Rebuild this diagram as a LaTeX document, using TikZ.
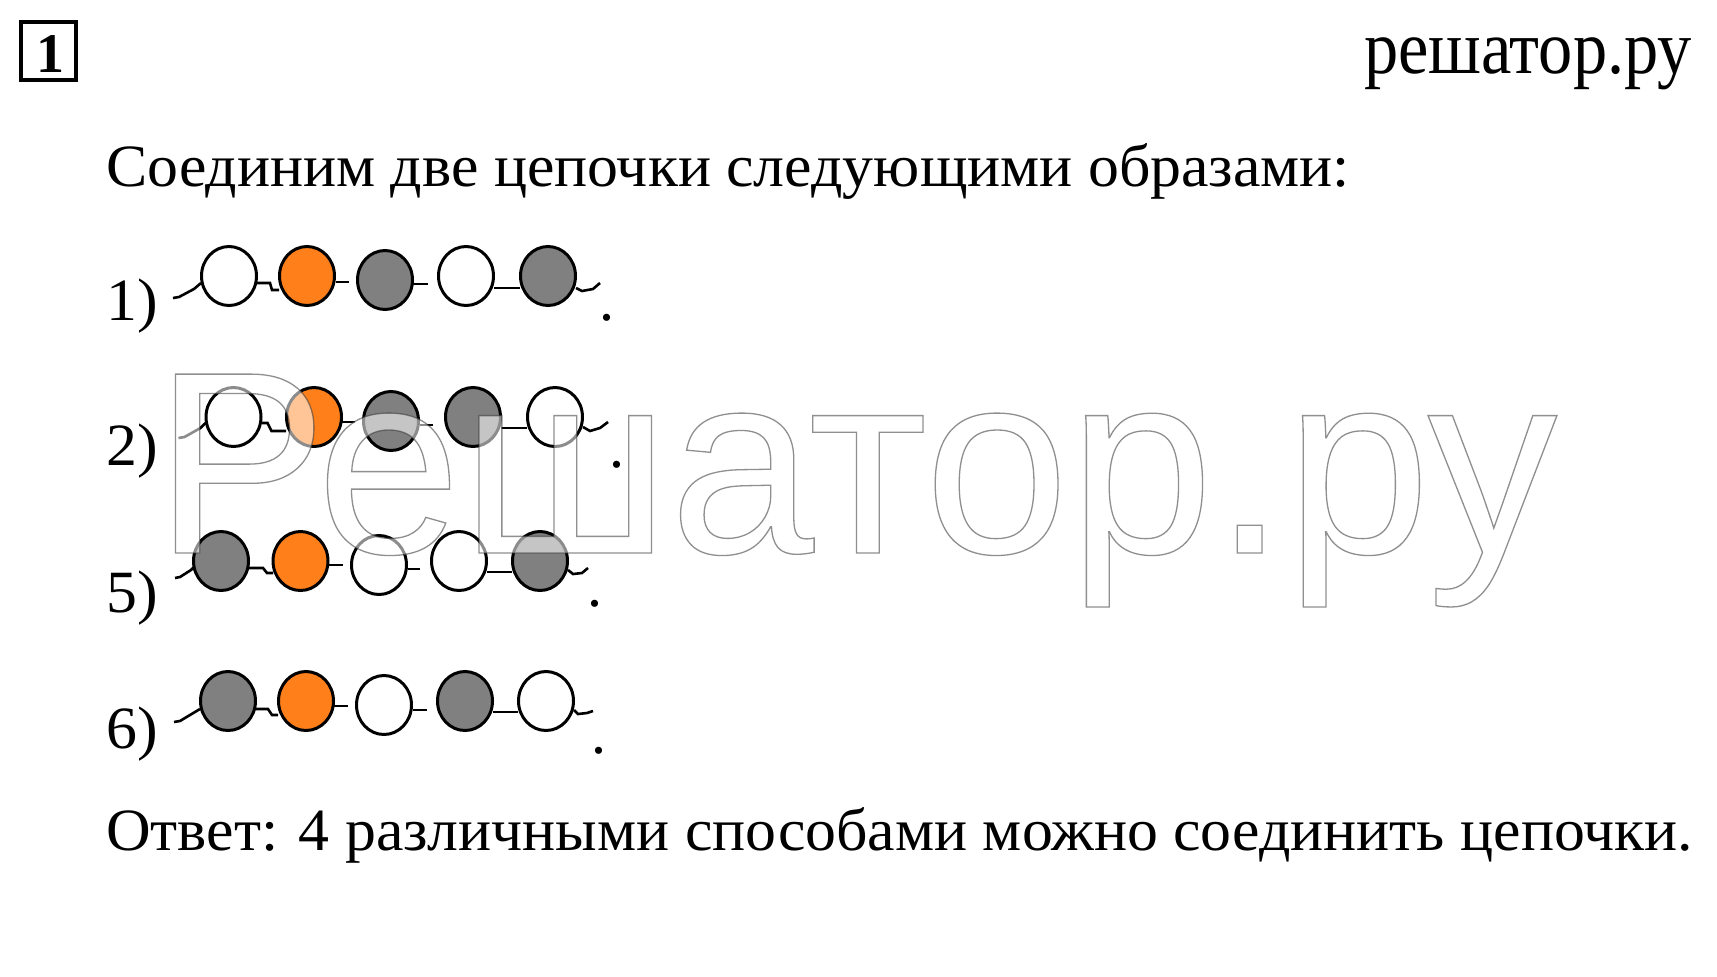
\documentclass[tikz,border=0pt]{standalone}
\usepackage{fontspec}
\setmainfont{Liberation Serif}
\newfontfamily\wmfont{Liberation Sans}
\usetikzlibrary{shapes.geometric,calc}
\definecolor{beadorange}{RGB}{255,127,26}
\definecolor{beadgray}{RGB}{128,128,128}
\newcommand{\wide}[1]{\scalebox{1.03}[1]{#1}}
\tikzset{
  bead/.style={ellipse,draw=black,line width=3pt,minimum width=55pt,minimum height=59pt,inner sep=0pt},
  wb/.style={bead,fill=white},
  ob/.style={bead,fill=beadorange},
  gb/.style={bead,fill=beadgray},
  link/.style={line width=2.6pt,line join=miter},
  txt/.style={anchor=base west,inner sep=0pt,font=\fontsize{60}{72}\selectfont},
  dotlbl/.style={anchor=base,inner sep=0pt,font=\fontsize{60}{72}\selectfont},
}
\begin{document}
\begin{tikzpicture}[x=1pt,y=-1pt]
\useasboundingbox[fill=white] (0,0) rectangle (1717,977);

% header
\node[draw=black,line width=4pt,minimum width=55pt,minimum height=58pt,inner sep=0pt] (box) at (48.5,51) {};
\node[anchor=base,inner sep=0pt,font=\bfseries\fontsize{56}{60}\selectfont] (one) at (50,72) {1};
\node[anchor=base east,inner sep=0pt] (site) at (1692,73) {\scalebox{0.9}[1]{\fontsize{76}{80}\selectfont решатор.ру}};

% text lines
\node[txt] (intro) at (106,186) {\wide{Соединим две цепочки следующими образами:}};
\node[txt] (l1) at (106,320) {\wide{1)}};
\node[txt] (l2) at (106,465) {\wide{2)}};
\node[txt] (l5) at (106,612) {\wide{5)}};
\node[txt] (l6) at (106,748) {\wide{6)}};
\node[txt] (ans) at (106,850) {\wide{Ответ: 4 различными способами можно соединить цепочки.}};

% chain 1
\node[wb] (a1) at (229,276) {};
\node[ob] (a2) at (307,276) {};
\node[gb] (a3) at (385,280) {};
\node[wb] (a4) at (466,276) {};
\node[gb] (a5) at (548,276) {};
\draw[link] ($(a1)+(-56,22)$) -- ++(6,-1) -- ($(a1)+(-35,13)$) -- ($(a1)+(-28,7)$);
\draw[link] ($(a1)+(28,7)$) -- ($(a1)+(41,7)$) -- ($(a1)+(43,14)$) -- ($(a2)+(-28,14)$);
\draw[link] ($(a2)+(29,6)$) -- ($(a2)+(42,6)$);
\draw[link] ($(a3)+(28,4)$) -- ($(a3)+(43,4)$);
\draw[link] ($(a4)+(28,12)$) -- ($(a5)+(-28,12)$);
\draw[link] ($(a5)+(28,12)$) -- ($(a5)+(34,15)$) -- ($(a5)+(45,13)$) -- ($(a5)+(52,7)$);
\node[dotlbl] (p1) at (607,320) {.};

% chain 2
\node[wb] (b1) at (233.5,417) {};
\node[ob] (b2) at (314,417) {};
\node[gb] (b3) at (391,421) {};
\node[gb] (b4) at (473,417) {};
\node[wb] (b5) at (555,417) {};
\draw[link] ($(b1)+(-55,21)$) -- ++(6,-1) -- ($(b1)+(-33,11)$) -- ($(b1)+(-28,6)$);
\draw[link] ($(b1)+(28,6)$) -- ($(b1)+(34,6)$) -- ($(b1)+(38,14)$) -- ($(b2)+(-28,14)$);
\draw[link] ($(b2)+(28,5)$) -- ($(b2)+(41,5)$);
\draw[link] ($(b3)+(29,4)$) -- ($(b3)+(42,4)$);
\draw[link] ($(b4)+(28,11)$) -- ($(b5)+(-28,11)$);
\draw[link] ($(b5)+(28,10)$) -- ($(b5)+(35,14)$) -- ($(b5)+(45,11)$) -- ($(b5)+(53,5)$);
\node[dotlbl] (p2) at (617,467) {.};

% chain 5
\node[gb] (c1) at (221,561) {};
\node[ob] (c2) at (300.5,561) {};
\node[wb] (c3) at (379,565) {};
\node[wb] (c4) at (459,561) {};
\node[gb] (c5) at (540,561) {};
\draw[link] ($(c1)+(-46,17)$) -- ++(5,-1) -- ($(c1)+(-30,9)$) -- ($(c1)+(-27,6)$);
\draw[link] ($(c1)+(28,7)$) -- ($(c1)+(42,7)$) -- ($(c1)+(46,12)$) -- ($(c2)+(-27.5,12)$);
\draw[link] ($(c2)+(27.5,4)$) -- ($(c2)+(42.5,4)$);
\draw[link] ($(c3)+(29,4)$) -- ($(c3)+(41,4)$);
\draw[link] ($(c4)+(28,11)$) -- ($(c5)+(-28,11)$);
\draw[link] ($(c5)+(28,9)$) -- ($(c5)+(33,13)$) -- ($(c5)+(42,12)$) -- ($(c5)+(48,7)$);
\node[dotlbl] (p5) at (595,606) {.};

% chain 6
\node[gb] (d1) at (228,701) {};
\node[ob] (d2) at (306,701) {};
\node[wb] (d3) at (384,705) {};
\node[gb] (d4) at (465,701) {};
\node[wb] (d5) at (546,701) {};
\draw[link] ($(d1)+(-54,21)$) -- ++(6,-1) -- ($(d1)+(-33,11)$) -- ($(d1)+(-28,8)$);
\draw[link] ($(d1)+(28,8)$) -- ($(d1)+(40,8)$) -- ($(d1)+(44,14)$) -- ($(d2)+(-28,14)$);
\draw[link] ($(d2)+(28,5)$) -- ($(d2)+(42,5)$);
\draw[link] ($(d3)+(29,5)$) -- ($(d3)+(43,5)$);
\draw[link] ($(d4)+(28,11)$) -- ($(d5)+(-28,11)$);
\draw[link] ($(d5)+(28,9)$) -- ($(d5)+(32,13)$) -- ($(d5)+(41,12)$) -- ($(d5)+(47,10)$);
\node[dotlbl] (p6) at (599,753) {.};

% watermark
\begin{scope}[opacity=0.55]
\node[anchor=base west,inner sep=0pt,text=white] (wm) at (154,553) {\wmfont\fontsize{260}{266}\selectfont\special{pdf:literal direct 2 Tr 1.3 w 0.2 G}Решатор.ру\special{pdf:literal direct 0 Tr}};
\end{scope}
\end{tikzpicture}
\end{document}
